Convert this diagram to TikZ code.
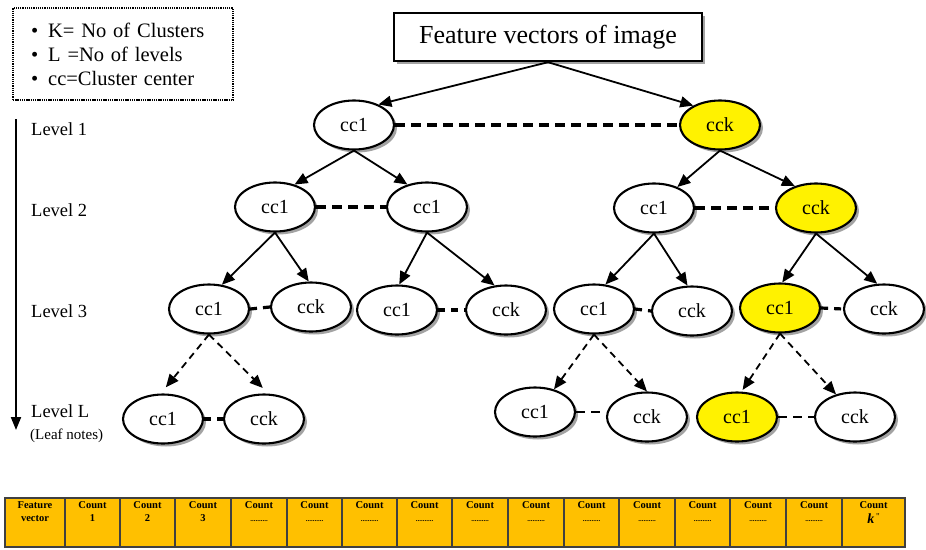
\documentclass[tikz,border=0pt]{standalone}
\usepackage{fontspec}
\setmainfont{Liberation Serif}
\usetikzlibrary{arrows.meta,shapes.geometric,shadows}
\definecolor{gold}{RGB}{255,192,0}
\begin{document}
\begin{tikzpicture}[x=1pt,y=-1pt,
  shd/.style={drop shadow={shadow xshift=3pt,shadow yshift=-3pt,fill=black!45,opacity=0.8}},
  cl/.style={ellipse,draw,line width=2.1pt,minimum width=80pt,minimum height=49pt,inner sep=0pt,fill=white,font=\fontsize{20}{24}\selectfont,shd},
  ycl/.style={cl,fill=yellow},
  arr/.style={line width=1.8pt,-{Triangle[length=13pt,width=11pt]}},
  darr/.style={arr,dash pattern=on 7pt off 5pt},
  sib/.style={line width=3.4pt,dash pattern=on 10pt off 6pt},
  sibs/.style={line width=3.2pt,dash pattern=on 7pt off 6pt},
  sibt/.style={line width=2.4pt,dash pattern=on 9pt off 6pt},
  lvl/.style={anchor=west,inner sep=0pt,font=\fontsize{18.5}{20}\selectfont},
  cellbox/.style={draw=black!75,line width=1.5pt,fill=gold},
  celltx/.style={anchor=north,align=center,inner sep=0pt,font=\bfseries\fontsize{10.5}{13}\selectfont}
]
\useasboundingbox (0,0) rectangle (926,549);

% legend
\node[draw,line width=2.4pt,dash pattern=on 1.3pt off 0.9pt,minimum width=220pt,minimum height=92pt,
      text width=190pt,inner xsep=15pt,align=left,font=\fontsize{20.5}{24}\selectfont] (legend) at (123,54)
  {\hspace{3pt}\textbullet\hspace{10pt}K= No of Clusters\\ \hspace{3pt}\textbullet\hspace{10pt}L =No of levels\\ \hspace{3pt}\textbullet\hspace{10pt}cc=Cluster center};

% title
\node[draw,line width=2.4pt,fill=white,minimum width=308pt,minimum height=48pt,shd,
      font=\fontsize{26}{30}\selectfont] (title) at (548,37) {Feature vectors of image};

% level axis
\coordinate (vtop) at (16,119);
\coordinate (vbot) at (16,430);
\draw[line width=2pt,-{Triangle[length=13pt,width=10pt]}] (vtop) -- (vbot);
\node[lvl] (lab1) at (31,129) {Level 1};
\node[lvl] (lab2) at (31,210) {Level 2};
\node[lvl] (lab3) at (31,311) {Level 3};
\node[lvl] (labL) at (31,411) {Level L};
\node[lvl,font=\fontsize{15}{16}\selectfont] (labLeaf) at (30,436) {(Leaf notes)};

% level 1
\node[cl]  (l1a) at (354,125) {cc1};
\node[ycl] (l1b) at (720,125) {cck};
% level 2
\node[cl]  (l2a) at (275,207) {cc1};
\node[cl]  (l2b) at (427,207) {cc1};
\node[cl]  (l2c) at (654,208) {cc1};
\node[ycl] (l2d) at (816,208) {cck};
% level 3
\node[cl]  (l3a) at (209,309) {cc1};
\node[cl]  (l3b) at (311,307) {cck};
\node[cl]  (l3c) at (397,310) {cc1};
\node[cl]  (l3d) at (506,310) {cck};
\node[cl]  (l3e) at (594,309) {cc1};
\node[cl]  (l3f) at (692,311) {cck};
\node[ycl] (l3g) at (780,308) {cc1};
\node[cl]  (l3h) at (884,309) {cck};
% level L
\node[cl]  (lLa) at (163,419) {cc1};
\node[cl]  (lLb) at (264,419) {cck};
\node[cl]  (lLc) at (535,412) {cc1};
\node[cl]  (lLd) at (647,417) {cck};
\node[ycl] (lLe) at (737,417) {cc1};
\node[cl]  (lLf) at (855,417) {cck};

% arrows
\draw[arr] (title.south) -- (l1a.40);
\draw[arr] (title.south) -- (l1b.144);
\draw[arr] (l1a.south) -- (l2a.49);
\draw[arr] (l1a.south) -- (l2b.131);
\draw[arr] (l1b.south) -- (l2c.42);
\draw[arr] (l1b.south) -- (l2d.134);
\draw[arr] (l2a.south) -- (l3a.62);
\draw[arr] (l2a.south) -- (l3b.95);
\draw[arr] (l2b.south) -- (l3c.85);
\draw[arr] (l2b.south) -- (l3d.115);
\draw[arr] (l2c.south) -- (l3e.65);
\draw[arr] (l2c.south) -- (l3f.100);
\draw[arr] (l2d.south) -- (l3g.85);
\draw[arr] (l2d.south) -- (l3h.105);
\draw[darr,shorten >=8pt] (l3a.south) -- (lLa.95);
\draw[darr,shorten >=8pt] (l3a.south) -- (lLb.80);
\draw[darr] (l3e.south) -- (lLc.50);
\draw[darr] (l3e.south) -- (lLd.north);
\draw[darr,shorten >=2pt] (l3g.south) -- (lLe.80);
\draw[darr] (l3g.south) -- (lLf.130);

% sibling links
\draw[sib] (l1a.east) -- (l1b.west);
\draw[sib] (l2a.east) -- (l2b.west);
\draw[sib] (l2c.east) -- (l2d.west);
\draw[sibs] (l3a.east) -- (l3b.west);
\draw[sibs] (l3c.east) -- (l3d.west);
\draw[sibs] (l3e.east) -- (l3f.west);
\draw[sibs] (l3g.east) -- (l3h.west);
\draw[sibs] (lLa.east) -- (lLb.west);
\draw[sibt] (lLc.east) -- (lLc.east -| lLd.west);
\draw[sibt] (lLe.east) -- (lLf.west);

% table
\foreach \i/\a/\b/\t in {
  0/5/65/{Feature\\vector},
  1/65/120/{Count\\1},
  2/120/175/{Count\\2},
  3/175/231/{Count\\3},
  4/231/287/{Count\\{\fontsize{7}{9}\selectfont..........}},
  5/287/342/{Count\\{\fontsize{7}{9}\selectfont..........}},
  6/342/397/{Count\\{\fontsize{7}{9}\selectfont..........}},
  7/397/452/{Count\\{\fontsize{7}{9}\selectfont..........}},
  8/452/508/{Count\\{\fontsize{7}{9}\selectfont..........}},
  9/508/564/{Count\\{\fontsize{7}{9}\selectfont..........}},
  10/564/619/{Count\\{\fontsize{7}{9}\selectfont..........}},
  11/619/675/{Count\\{\fontsize{7}{9}\selectfont..........}},
  12/675/730/{Count\\{\fontsize{7}{9}\selectfont..........}},
  13/730/786/{Count\\{\fontsize{7}{9}\selectfont..........}},
  14/786/842/{Count\\{\fontsize{7}{9}\selectfont..........}},
  15/842/905/{Count\\[2pt]{\fontsize{14}{14}\selectfont\textit{k}}\,\raisebox{4pt}{\normalfont\fontsize{9}{9}\selectfont\textquotedbl}}}
{
  \draw[cellbox] (\a,498) rectangle (\b,547);
  \node[celltx] (c\i) at ({(\a+\b)/2},501) {\t};
}
\end{tikzpicture}
\end{document}
